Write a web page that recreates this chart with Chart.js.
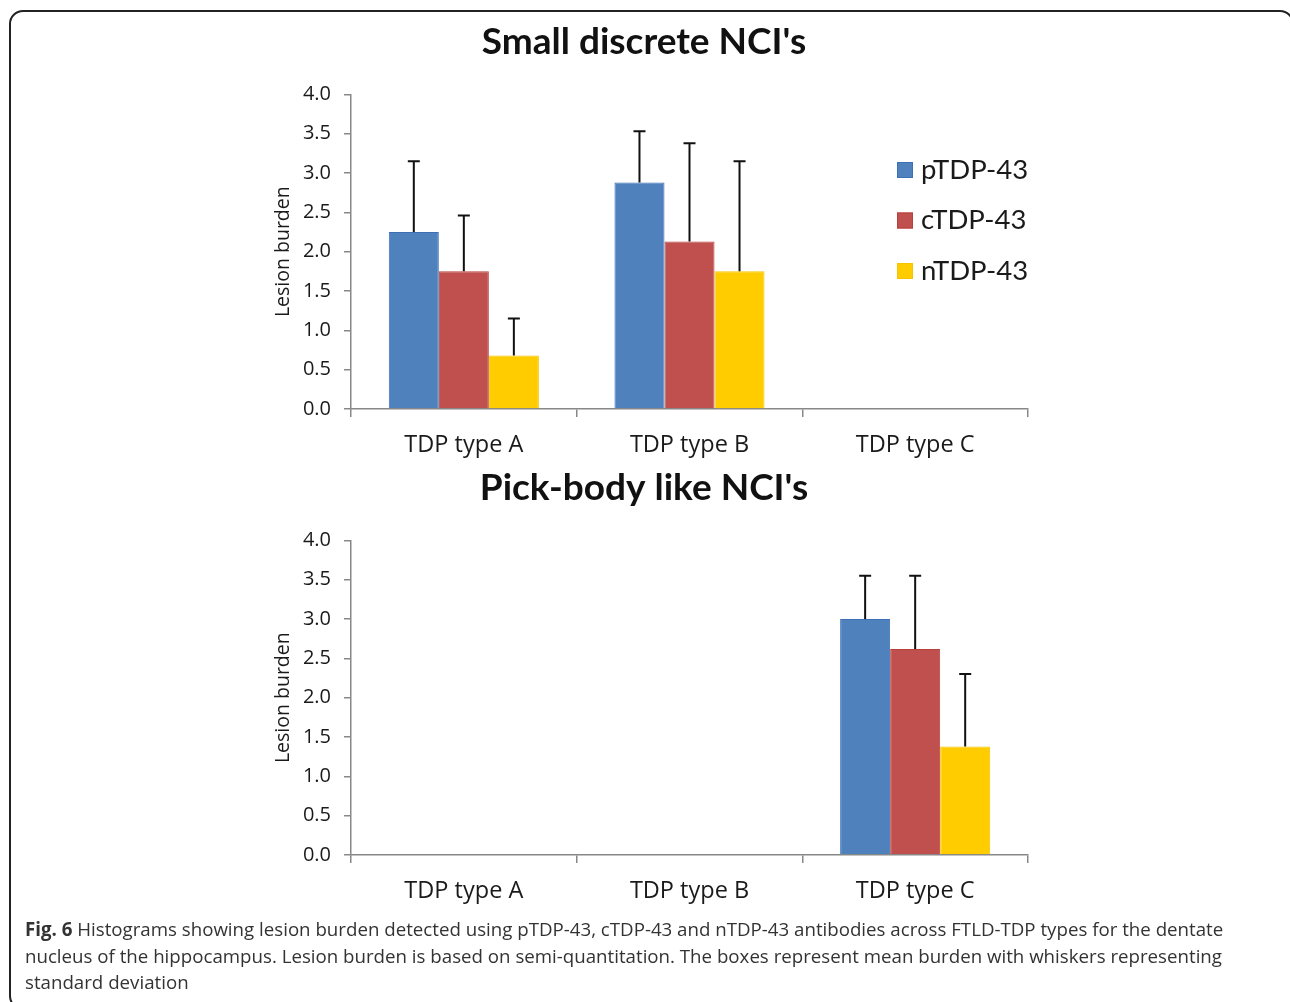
<!DOCTYPE html>
<html>
<head>
<meta charset="utf-8">
<script src="https://cdn.jsdelivr.net/npm/chart.js@4.4.1/dist/chart.umd.min.js"></script>
<style>
  body { margin: 0; background: #fff; width: 1290px; height: 1002px; overflow: hidden; position: relative; }
  .marco { position: absolute; left: 9px; top: 10px; width: 1285px; height: 1000px; border: 2px solid #222; border-radius: 14px; box-sizing: border-box; }
  canvas { position: absolute; left: 0; }
  #grafico1 { top: 0; }
  #grafico2 { top: 446px; }
  .pie { position: absolute; left: 25px; top: 916px; font-family: "Open Sans", sans-serif; font-size: 18.7px; line-height: 26.5px; color: #333; white-space: nowrap; }
</style>
</head>
<body>
<div class="marco"></div>
<canvas id="grafico1" width="1290" height="470"></canvas>
<canvas id="grafico2" width="1290" height="470"></canvas>
<div class="pie"><b>Fig. 6</b> Histograms showing lesion burden detected using pTDP-43, cTDP-43 and nTDP-43 antibodies across FTLD-TDP types for the dentate<br>nucleus of the hippocampus. Lesion burden is based on semi-quantitation. The boxes represent mean burden with whiskers representing<br>standard deviation</div>
<script>
// Datos
const categorias = ['TDP type A', 'TDP type B', 'TDP type C'];
const anticuerpos = ['pTDP-43', 'cTDP-43', 'nTDP-43'];
const ticksY = ['0.0', '0.5', '1.0', '1.5', '2.0', '2.5', '3.0', '3.5', '4.0'];

// Small discrete NCI's (media y desviacion estandar)
const pequenasP = [2.25, 2.88, 0];
const pequenasPDe = [0.90, 0.65, 0];
const pequenasC = [1.75, 2.13, 0];
const pequenasCDe = [0.71, 1.25, 0];
const pequenasN = [0.68, 1.75, 0];
const pequenasNDe = [0.47, 1.40, 0];

// Pick-body like NCI's
const pickP = [0, 0, 3.00];
const pickPDe = [0, 0, 0.55];
const pickC = [0, 0, 2.62];
const pickCDe = [0, 0, 0.93];
const pickN = [0, 0, 1.38];
const pickNDe = [0, 0, 0.92];

const colores = ['#4F81BD', '#C0504D', '#FFCC00'];
const bordes = ['#3C6FB5', '#B8403C', '#F5C400'];
const fuente = 'Lato, sans-serif';
const fuenteEjes = '"Open Sans", sans-serif';

// Barras de error (solo hacia arriba)
const barrasError = {
    id: 'barrasError',
    afterDatasetsDraw(chart) {
        const ctx = chart.ctx;
        const y = chart.scales.y;
        ctx.save();
        ctx.strokeStyle = '#111';
        ctx.lineWidth = 2;
        chart.data.datasets.forEach((ds, i) => {
            const meta = chart.getDatasetMeta(i);
            meta.data.forEach((barra, j) => {
                const de = ds.desviacion[j];
                if (!de) return;
                const yTop = y.getPixelForValue(ds.data[j] + de);
                ctx.beginPath();
                ctx.moveTo(barra.x, barra.y);
                ctx.lineTo(barra.x, yTop);
                ctx.moveTo(barra.x - 6, yTop);
                ctx.lineTo(barra.x + 6, yTop);
                ctx.stroke();
            });
        });
        ctx.restore();
    }
};

// Leyenda dibujada dentro del area
const leyenda = {
    id: 'leyenda',
    afterDraw(chart, args, opts) {
        if (!opts.mostrar) return;
        const ctx = chart.ctx;
        ctx.save();
        ctx.font = '27.5px ' + fuente;
        ctx.textBaseline = 'middle';
        chart.data.datasets.forEach((ds, i) => {
            const yc = 170 + i * 50.5;
            ctx.fillStyle = ds.backgroundColor;
            ctx.fillRect(897, yc - 8, 16, 16);
            ctx.strokeStyle = ds.borderColor;
            ctx.lineWidth = 1;
            ctx.strokeRect(897.5, yc - 7.5, 15, 15);
            ctx.fillStyle = '#1a1a1a';
            ctx.fillText(ds.label, 921, yc);
        });
        ctx.restore();
    }
};

function crearGrafico(id, titulo, valores, desviaciones, conLeyenda) {
    const ctx = document.getElementById(id).getContext('2d');
    return new Chart(ctx, {
        type: 'bar',
        data: {
            labels: categorias,
            datasets: anticuerpos.map((nombre, i) => ({
                label: nombre,
                data: valores[i],
                desviacion: desviaciones[i],
                backgroundColor: colores[i],
                borderColor: bordes[i],
                borderWidth: 1,
                categoryPercentage: 0.665,
                barPercentage: 1.0
            }))
        },
        options: {
            responsive: false,
            animation: false,
            layout: { padding: { left: 260, right: 262, top: 0, bottom: 10 } },
            plugins: {
                legend: { display: false },
                tooltip: { enabled: false },
                title: {
                    display: true,
                    text: titulo,
                    color: '#111',
                    font: { family: fuente, size: 37, weight: 'bold' },
                    padding: { top: 20, bottom: 30 }
                },
                leyenda: { mostrar: conLeyenda }
            },
            scales: {
                x: {
                    afterFit: s => { s.height = 51; },
                    grid: { offset: true, drawOnChartArea: false, tickLength: 8, color: '#888', lineWidth: 1.5 },
                    border: { color: '#888', width: 1.5 },
                    ticks: { color: '#1a1a1a', font: { family: fuenteEjes, size: 23.5 }, padding: 14 }
                },
                y: {
                    min: 0,
                    max: 4,
                    afterFit: s => { s.width = 91; },
                    afterBuildTicks: s => { s.ticks = ticksY.map(t => ({ value: parseFloat(t) })); },
                    grid: { drawOnChartArea: false, tickLength: 7, color: '#888', lineWidth: 1.5 },
                    border: { color: '#888', width: 1.5 },
                    ticks: {
                        color: '#1a1a1a',
                        font: { family: fuenteEjes, size: 20 },
                        padding: 13,
                        callback: (v) => ticksY.find(t => parseFloat(t) === v)
                    },
                    title: {
                        display: true,
                        text: 'Lesion burden',
                        color: '#1a1a1a',
                        font: { family: fuenteEjes, size: 19.5 },
                        padding: { top: 12, bottom: 0 }
                    }
                }
            }
        },
        plugins: [barrasError, leyenda]
    });
}

crearGrafico('grafico1', "Small discrete NCI's",
    [pequenasP, pequenasC, pequenasN], [pequenasPDe, pequenasCDe, pequenasNDe], true);
crearGrafico('grafico2', "Pick-body like NCI's",
    [pickP, pickC, pickN], [pickPDe, pickCDe, pickNDe], false);
</script>
</body>
</html>
